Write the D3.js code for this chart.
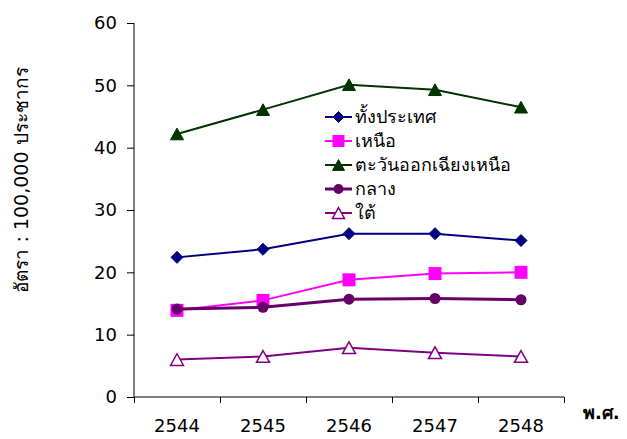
<!DOCTYPE html>
<html>
<head>
<meta charset="utf-8">
<script src="https://cdn.jsdelivr.net/npm/d3@7"></script>
<style>
  html, body { margin: 0; padding: 0; background: #fff; }
  svg { display: block; font-family: "DejaVu Sans", "Noto Sans", sans-serif; }
</style>
</head>
<body>
<svg id="chart" width="627" height="439"></svg>
<script>
// Years (Buddhist Era)
const years = ["2544", "2545", "2546", "2547", "2548"];

// Rates per 100,000 population by region
const wholeCountry = [22.4, 23.7, 26.2, 26.2, 25.1];
const north        = [13.9, 15.5, 18.8, 19.8, 20.0];
const northeast    = [42.2, 46.1, 50.1, 49.3, 46.5];
const central      = [14.1, 14.4, 15.7, 15.8, 15.6];
const south        = [6.0, 6.5, 7.9, 7.1, 6.5];

const seriesNames = ["ทั้งประเทศ", "เหนือ", "ตะวันออกเฉียงเหนือ", "กลาง", "ใต้"];
const yTicks = [0, 10, 20, 30, 40, 50, 60];

const yTitle = "อัตรา : 100,000 ประชากร";
const xTitle = "พ.ศ.";

const series = [
  { name: seriesNames[0], values: wholeCountry, color: "#000080", width: 2, marker: "diamond",  fill: "#000080" },
  { name: seriesNames[1], values: north,        color: "#FF00FF", width: 2, marker: "square",   fill: "#FF00FF" },
  { name: seriesNames[2], values: northeast,    color: "#003300", width: 2, marker: "triangle", fill: "#003300" },
  { name: seriesNames[3], values: central,      color: "#660066", width: 3, marker: "circle",   fill: "#660066" },
  { name: seriesNames[4], values: south,        color: "#800080", width: 2, marker: "triangle", fill: "#ffffff" }
];

const svg = d3.select("#chart");
const plotLeft = 134, plotRight = 564, plotTop = 23, plotBottom = 397;

const x = d3.scaleBand().domain(years).range([plotLeft, plotRight]).padding(0);
const xb = d3.scaleLinear().domain([0, years.length]).range([plotLeft, plotRight]);
const y = d3.scaleLinear().domain([0, 60]).range([plotBottom, plotTop]);

// Y axis
const yAxis = svg.append("g")
  .attr("transform", `translate(${plotLeft},0)`)
  .call(d3.axisLeft(y).tickValues(yTicks).tickSize(7).tickPadding(10).tickFormat(d3.format("d")));
yAxis.select(".domain").attr("d", `M0,${plotTop}V${plotBottom}`).attr("stroke", "#000");
yAxis.selectAll(".tick line").attr("stroke", "#000");
yAxis.selectAll(".tick text").attr("font-size", 18).attr("fill", "#000").attr("font-family", "DejaVu Sans");

// X axis: boundary ticks between years
const xAxisTicks = svg.append("g")
  .attr("transform", `translate(0,${plotBottom})`)
  .call(d3.axisBottom(xb).tickValues(d3.range(years.length + 1)).tickSize(6).tickFormat(""));
xAxisTicks.select(".domain").attr("d", `M${plotLeft},0H${plotRight}`).attr("stroke", "#000");
xAxisTicks.selectAll(".tick line").attr("stroke", "#000");

// X axis: year labels at band centers
const xAxisLabels = svg.append("g")
  .attr("transform", `translate(0,${plotBottom})`)
  .call(d3.axisBottom(x).tickSize(0).tickPadding(22));
xAxisLabels.select(".domain").remove();
xAxisLabels.selectAll(".tick text").attr("font-size", 18).attr("fill", "#000").attr("font-family", "DejaVu Sans");

// Axis titles
svg.append("text")
  .attr("transform", `translate(28,180) rotate(-90)`)
  .attr("text-anchor", "middle")
  .attr("font-size", 19)
  .attr("fill", "#000")
  .text(yTitle);

svg.append("text")
  .attr("x", 583).attr("y", 419)
  .attr("font-size", 18).attr("font-weight", "bold")
  .attr("fill", "#000")
  .text(xTitle);

// Marker drawing
function drawMarker(g, type, size, color, fill) {
  if (type === "diamond") {
    const r = size / 2;
    g.append("path").attr("d", `M0,${-r}L${r},0L0,${r}L${-r},0Z`)
      .attr("fill", fill).attr("stroke", color);
  } else if (type === "square") {
    g.append("rect").attr("x", -size / 2).attr("y", -size / 2)
      .attr("width", size).attr("height", size)
      .attr("fill", fill).attr("stroke", "none");
  } else if (type === "triangle") {
    const h = size * 0.9, w = size;
    g.append("path").attr("d", `M0,${-h / 2}L${w / 2},${h / 2}L${-w / 2},${h / 2}Z`)
      .attr("fill", fill).attr("stroke", color).attr("stroke-width", fill === "#ffffff" ? 1.5 : 1);
  } else if (type === "circle") {
    g.append("circle").attr("r", size / 2).attr("fill", fill).attr("stroke", "none");
  }
}

const markerSize = { diamond: 12, square: 13, triangle: 13, circle: 11 };

const line = d3.line().x((d, i) => x(years[i]) + x.bandwidth() / 2).y(d => y(d));

series.forEach(s => {
  const g = svg.append("g");
  g.append("path").datum(s.values)
    .attr("d", line).attr("fill", "none")
    .attr("stroke", s.color).attr("stroke-width", s.width);
  s.values.forEach((v, i) => {
    const m = g.append("g").attr("transform", `translate(${x(years[i]) + x.bandwidth() / 2},${y(v)})`);
    drawMarker(m, s.marker, markerSize[s.marker], s.color, s.fill);
  });
});

// Legend
const legend = svg.append("g").attr("transform", "translate(325,117)");
series.forEach((s, i) => {
  const row = legend.append("g").attr("transform", `translate(0,${i * 24})`);
  row.append("line").attr("x1", 0).attr("x2", 27).attr("y1", 0).attr("y2", 0)
    .attr("stroke", s.color).attr("stroke-width", s.width);
  const m = row.append("g").attr("transform", "translate(13.5,0)");
  drawMarker(m, s.marker, markerSize[s.marker] - 1, s.color, s.fill);
  row.append("text").attr("x", 30).attr("y", 6)
    .attr("font-size", 18).attr("fill", "#000")
    .text(s.name);
});
</script>
</body>
</html>
